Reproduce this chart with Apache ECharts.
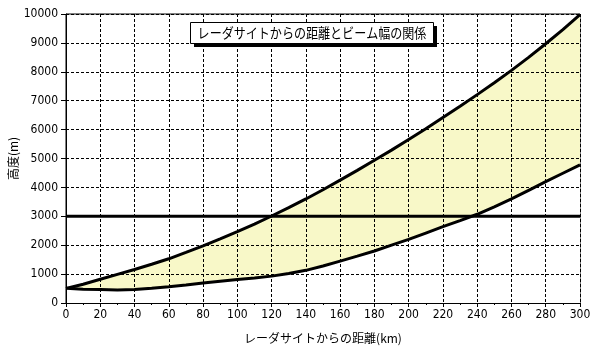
<!DOCTYPE html>
<html><head><meta charset="utf-8">
<script src="https://cdn.jsdelivr.net/npm/echarts@6/dist/echarts.min.js"></script>
<style>html,body{margin:0;padding:0;background:#fff}#c{width:599px;height:351px}</style>
</head><body><div id="c"></div>
<script>
// distance from radar site (km)
const dist = [0,10,20,30,40,50,60,70,80,90,100,110,120,130,140,150,160,170,180,190,200,210,220,230,240,250,260,270,280,290,300];
// upper edge of beam (m)
const upper = [500,650,820,990,1160,1340,1530,1750,1980,2220,2470,2730,3010,3300,3600,3920,4250,4590,4940,5290,5660,6030,6420,6810,7210,7620,8050,8500,8970,9460,9980];
// lower edge of beam (m)
const lower = [510,480,470,450,470,510,560,620,690,750,810,865,930,1020,1130,1280,1450,1620,1800,2000,2200,2420,2640,2850,3070,3330,3600,3900,4200,4490,4780];
const refLevel = 3000;
const yTicks = [0,1000,2000,3000,4000,5000,6000,7000,8000,9000,10000];
const xTicks = [0,20,40,60,80,100,120,140,160,180,200,220,240,260,280,300];
const titleText = 'レーダサイトからの距離とビーム幅の関係';
const xName = 'レーダサイトからの距離(km)';
const yName = '高度(m)';

const upperData = dist.map((d,i)=>[d, upper[i]]);
const lowerData = dist.map((d,i)=>[d, lower[i]]);
const refData = [[dist[0], refLevel],[dist[dist.length-1], refLevel]];
const numFont = "'Liberation Sans Narrow','DejaVu Sans Condensed','Liberation Sans',sans-serif";
const jpFont = "'Noto Sans CJK JP',sans-serif";

const chart = echarts.init(document.getElementById('c'), null, {renderer:'canvas'});
chart.setOption({
  animation:false,
  backgroundColor:'#fff',
  grid:{left:66, right:19, top:14, bottom:48, outerBoundsMode:'none', containLabel:false,
        show:true, borderColor:'#000', borderWidth:1, backgroundColor:'transparent'},
  xAxis:{
    type:'value', min:0, max:300, interval:20, z:5,
    name:xName, nameLocation:'middle', nameGap:29, nameMoveOverlap:false,
    nameTextStyle:{fontFamily:jpFont, fontSize:12, color:'#000'},
    axisLine:{lineStyle:{color:'#000', width:1}},
    axisTick:{show:true, length:4, lineStyle:{color:'#000'}},
    minorTick:{show:true, splitNumber:2, length:2, lineStyle:{color:'#000'}},
    axisLabel:{color:'#000', fontFamily:numFont, fontSize:12, margin:6, formatter:v=>xTicks.includes(v)?String(v):''},
    splitLine:{show:true, lineStyle:{color:'#000', width:1, type:[3,2]}}
  },
  yAxis:{
    type:'value', min:0, max:10000, interval:1000, z:5,
    name:yName, nameLocation:'middle', nameGap:47, nameRotate:90, nameMoveOverlap:false,
    nameTextStyle:{fontFamily:jpFont, fontSize:12, color:'#000'},
    axisLine:{show:true, lineStyle:{color:'#000', width:1}},
    axisTick:{show:true, length:5, lineStyle:{color:'#000'}},
    axisLabel:{color:'#000', fontFamily:numFont, fontSize:12, margin:8, formatter:v=>yTicks.includes(v)?String(v):''},
    splitLine:{show:true, lineStyle:{color:'#000', width:1, type:[3,2]}}
  },
  series:[
    {type:'line', name:'upper', data:upperData, symbol:'none', z:2,
     lineStyle:{color:'#000', width:3},
     areaStyle:{color:'#f8f8c8', opacity:1, origin:'start'}
    },
    {type:'line', name:'lower', data:lowerData, symbol:'none', z:3,
     lineStyle:{color:'#000', width:3},
     areaStyle:{color:'#fff', opacity:1, origin:'start'}
    },
    {type:'line', name:'ref', data:refData, symbol:'none', z:6,
     lineStyle:{color:'#000', width:3}
    }
  ],
  graphic:[
    {type:'rect', shape:{x:194, y:26, width:243, height:21}, style:{fill:'#000'}, z:10},
    {type:'rect', shape:{x:190.5, y:22.5, width:243, height:21}, style:{fill:'#fff', stroke:'#000', lineWidth:1}, z:11},
    {type:'text', x:312, y:33, scaleX:0.86, style:{text:titleText, font:"14px 'Noto Sans CJK JP'", fill:'#000', align:'center', verticalAlign:'middle'}, z:12}
  ]
});
</script></body></html>
